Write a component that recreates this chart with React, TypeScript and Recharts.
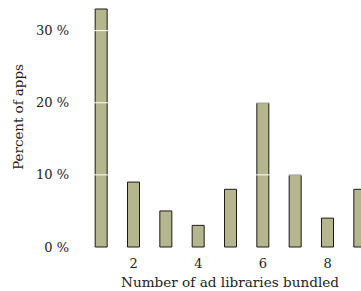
import React from 'react';
import { BarChart, Bar, XAxis, YAxis, ReferenceLine } from 'recharts';

const libraryCounts = [1, 2, 3, 4, 5, 6, 7, 8, 9];
const percentApps = [33, 9, 5, 3, 8, 20, 10, 4, 8];
const xTicks = [2, 4, 6, 8];
const yTicks = [0, 10, 20, 30];

const data = libraryCounts.map((n, i) => ({ n, pct: percentApps[i] }));

const FONT = 'DejaVu Serif';
const FS = 13;

const App: React.FC = () => {
  return (
    <div style={{ position: 'absolute', left: 0, top: 0, fontFamily: FONT }}>
      <style>{`body{margin:0} svg text{font-family:'DejaVu Serif'}`}</style>
      <BarChart
        width={361}
        height={291}
        data={data}
        margin={{ top: 9, right: 1, bottom: 0, left: 0 }}
      >
        <XAxis
          dataKey="n"
          type="number"
          domain={[0, 9]}
          ticks={xTicks}
          axisLine={false}
          tickLine={false}
          tickSize={0}
          tickMargin={12}
          height={44}
          tick={{ fill: '#222', fontSize: FS }}
          label={{
            content: () => (
              <text x={230} y={287} textAnchor="middle" fill="#222" fontSize={13.6}>
                Number of ad libraries bundled
              </text>
            ),
          }}
        />
        <YAxis
          type="number"
          domain={[0, 33]}
          ticks={yTicks}
          width={69}
          axisLine={false}
          tickLine={false}
          tickSize={0}
          tickMargin={0}
          tickFormatter={(v) => `${v} %`}
          tick={{ fill: '#222', fontSize: FS }}
          label={{
            content: () => (
              <text
                x={0}
                y={0}
                transform="translate(23,117) rotate(-90)"
                textAnchor="middle"
                fill="#222"
                fontSize={13.4}
              >
                Percent of apps
              </text>
            ),
          }}
        />
        <Bar
          dataKey="pct"
          barSize={12}
          fill="#b6b68e"
          stroke="#1a1a1a"
          strokeWidth={1}
          isAnimationActive={false}
        />
        {[10, 20, 30].map((v) => (
          <ReferenceLine key={v} y={v} stroke="#ffffff" strokeWidth={1} />
        ))}
      </BarChart>
    </div>
  );
};

export default App;
